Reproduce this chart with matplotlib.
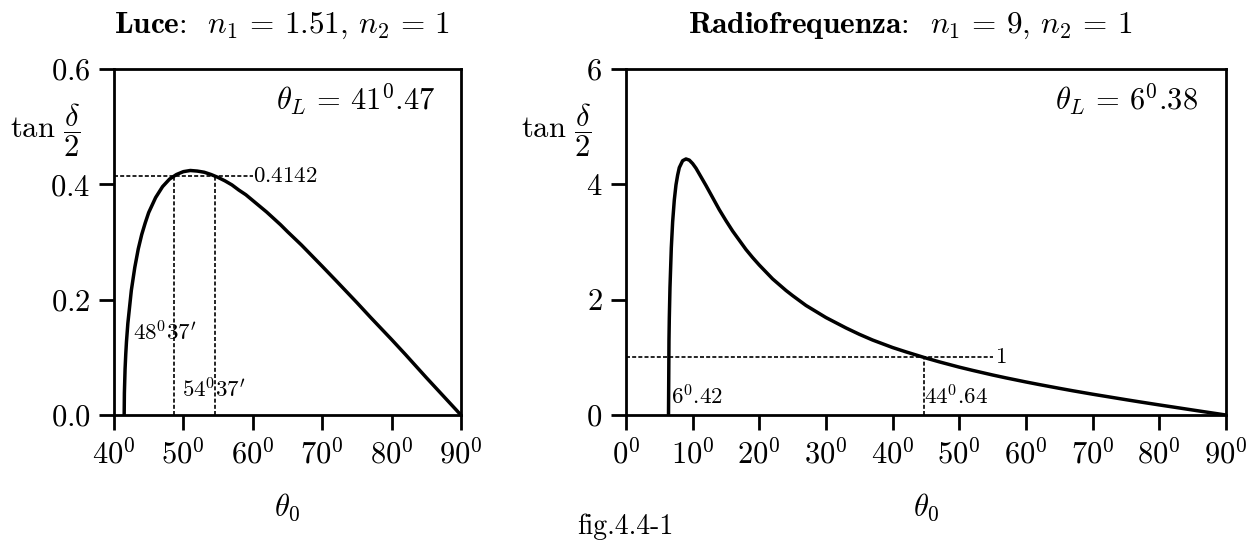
import matplotlib
matplotlib.use("Agg")
import matplotlib.pyplot as plt

plt.rcParams['mathtext.fontset'] = 'cm'
plt.rcParams['font.family'] = 'cmr10'
plt.rcParams['axes.unicode_minus'] = False
plt.rcParams['axes.formatter.use_mathtext'] = True

# --- Luce: n1 = 1.51, n2 = 1 ---
luce_theta = [41.47, 41.5, 41.6, 41.7, 41.8, 42, 42.5, 43, 43.5, 44, 44.5, 45, 46, 47,
              48, 49, 50, 51, 52, 53, 54, 55, 56, 57, 58, 59, 60, 62, 64, 65, 67,
              70, 72, 75, 77, 80, 82, 85, 87, 90]
luce_tan = [0.0, 0.038, 0.080, 0.106, 0.127, 0.159, 0.216, 0.256, 0.288, 0.313,
            0.333, 0.351, 0.377, 0.396, 0.409, 0.417, 0.422, 0.424, 0.423, 0.421,
            0.417, 0.412, 0.406, 0.399, 0.390, 0.382, 0.372, 0.352, 0.330, 0.318,
            0.295, 0.258, 0.233, 0.195, 0.169, 0.131, 0.105, 0.065, 0.039, 0.0]
luce_level = 0.4142
luce_cross = [48.62, 54.62]
luce_xticks = [40, 50, 60, 70, 80, 90]
luce_yticks = [0.0, 0.2, 0.4, 0.6]

# --- Radiofrequenza: n1 = 9, n2 = 1 ---
radio_theta = [6.38, 6.45, 6.5, 6.6, 6.8, 7, 7.25, 7.5, 7.75, 8, 8.5, 9, 9.5, 10,
               10.5, 11, 11.5, 12, 13, 14, 15, 16, 17, 18, 19, 20, 22, 24, 25, 27,
               30, 33, 35, 37, 40, 42, 45, 47, 50, 52, 55, 57, 60, 62, 65, 67, 70,
               72, 75, 77, 80, 82, 85, 87, 90]
radio_tan = [0.0, 1.30, 1.68, 2.21, 2.90, 3.35, 3.73, 3.99, 4.16, 4.29, 4.41, 4.44,
             4.42, 4.36, 4.28, 4.18, 4.08, 3.98, 3.77, 3.56, 3.37, 3.19, 3.03, 2.87,
             2.73, 2.60, 2.36, 2.16, 2.07, 1.90, 1.69, 1.51, 1.40, 1.30, 1.17, 1.095,
             0.988, 0.922, 0.830, 0.774, 0.694, 0.644, 0.573, 0.528, 0.463, 0.421,
             0.361, 0.323, 0.266, 0.229, 0.175, 0.140, 0.087, 0.052, 0.0]
radio_level = 1.0
radio_cross = [6.42, 44.64]
radio_xticks = [0, 10, 20, 30, 40, 50, 60, 70, 80, 90]
radio_yticks = [0, 2, 4, 6]

fig = plt.figure(figsize=(12.58, 5.45), dpi=100)
ax1 = fig.add_axes([0.0906, 0.2385, 0.2758, 0.6349])
ax2 = fig.add_axes([0.4976, 0.2385, 0.4769, 0.6349])

dash = dict(color='black', lw=1.2, ls=(0, (2.4, 1.3)))
TICK = 22
NOTE = 16.5

def style(ax, xticks, yticks, ylabels):
    for s in ax.spines.values():
        s.set_linewidth(2.0)
    ax.set_xticks(xticks)
    ax.set_xticklabels([r'$%d^0$' % t for t in xticks], fontsize=TICK)
    ax.set_yticks(yticks)
    ax.set_yticklabels(ylabels, fontsize=TICK)
    ax.tick_params(direction='out', length=11, width=2.0, pad=6)
    ax.set_xlabel(r'$\theta_0$', fontsize=TICK, labelpad=16)

# left panel
ax1.plot(luce_theta, luce_tan, color='black', lw=2.5)
ax1.plot([40, 60], [luce_level, luce_level], **dash)
for c in luce_cross:
    ax1.plot([c, c], [0, luce_level], **dash)
ax1.text(60.1, luce_level, r'$0.4142$', fontsize=NOTE, va='center', ha='left')
ax1.text(42.7, 0.144, r"$48^0 37'$", fontsize=NOTE, va='center', ha='left')
ax1.text(49.8, 0.045, r"$54^0 37'$", fontsize=NOTE, va='center', ha='left')
ax1.text(0.925, 0.91, r'$\theta_L\,=\,41^0.47$', fontsize=TICK, ha='right',
         va='center', transform=ax1.transAxes)
ax1.set_xlim(40, 90)
ax1.set_ylim(0, 0.6)
style(ax1, luce_xticks, luce_yticks, [r'$%.1f$' % v for v in luce_yticks])
fig.text(0.2242, 0.9394, r'$\mathbf{Luce}$:  $n_1\,=\,1.51$, $n_2\,=\,1$',
         fontsize=22.5, ha='center', va='baseline')
fig.text(0.036, 0.761, r'$\tan\,\dfrac{\delta}{2}$', fontsize=TICK, ha='center',
         va='center')

# right panel
ax2.plot(radio_theta, radio_tan, color='black', lw=2.5)
ax2.plot([0, 55], [radio_level, radio_level], **dash)
for c in radio_cross:
    ax2.plot([c, c], [0, radio_level], **dash)
ax2.text(55.3, radio_level, r'$1$', fontsize=NOTE, va='center', ha='left')
ax2.text(6.7, 0.33, r'$6^0.42$', fontsize=NOTE, va='center', ha='left')
ax2.text(44.7, 0.33, r'$44^0.64$', fontsize=NOTE, va='center', ha='left')
ax2.text(0.953, 0.91, r'$\theta_L\,=\,6^0.38$', fontsize=TICK, ha='right',
         va='center', transform=ax2.transAxes)
ax2.set_xlim(0, 90)
ax2.set_ylim(0, 6)
style(ax2, radio_xticks, radio_yticks, [r'$%d$' % v for v in radio_yticks])
fig.text(0.7234, 0.9394, r'$\mathbf{Radiofrequenza}$:  $n_1\,=\,9$, $n_2\,=\,1$',
         fontsize=22.5, ha='center', va='baseline')
fig.text(0.442, 0.761, r'$\tan\,\dfrac{\delta}{2}$', fontsize=TICK, ha='center',
         va='center')

fig.text(0.497, 0.033, 'fig.4.4-1', fontsize=20, ha='center', va='center')

fig.savefig('out.png', dpi=100)
